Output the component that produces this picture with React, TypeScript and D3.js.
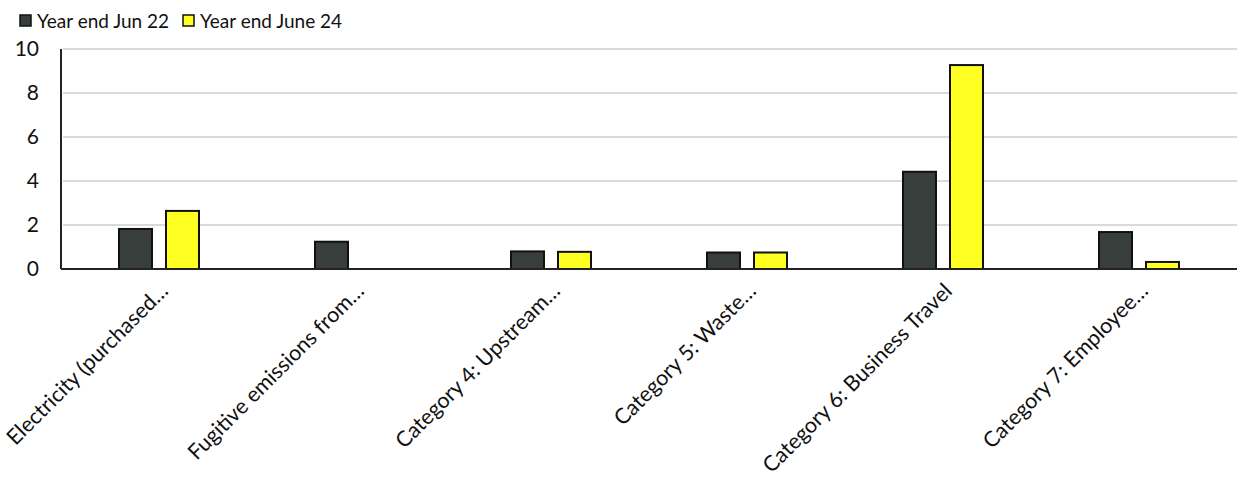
import React from "react";
import * as d3 from "d3";

const categories = [
  "Electricity (purchased…",
  "Fugitive emissions from…",
  "Category 4: Upstream…",
  "Category 5: Waste…",
  "Category 6: Business Travel",
  "Category 7: Employee…",
];
const seriesNames = ["Year end Jun 22", "Year end June 24"];
const valuesJun22 = [1.82, 1.24, 0.8, 0.75, 4.42, 1.68];
const valuesJun24 = [2.64, 0, 0.78, 0.75, 9.27, 0.32];
const yTicks = [0, 2, 4, 6, 8, 10];

const colors = ["#383e3b", "#ffff22"];
const FONT = "Lato, 'Open Sans', sans-serif";

const W = 1237;
const H = 486;
const margin = { left: 61, right: 0, top: 49, bottom: 217 };

export default function App() {
  const x = d3
    .scaleBand<string>()
    .domain(categories)
    .range([margin.left, W - margin.right]);
  const y = d3
    .scaleLinear()
    .domain([0, 10])
    .range([H - margin.bottom, margin.top]);
  const barW = 33;
  const gap = 14;
  const series = [valuesJun22, valuesJun24];

  return (
    <svg
      width={W}
      height={H}
      style={{ position: "absolute", left: 0, top: 0, background: "#fff" }}
      fontFamily={FONT}
    >
      {/* legend */}
      {seriesNames.map((name, i) => {
        const lx = i === 0 ? 20 : 183;
        return (
          <g key={name}>
            <rect x={lx} y={15} width={11} height={11} fill={colors[i]} stroke="#111" strokeWidth={1.5} />
            <text x={lx + 17} y={28} fontSize={19} fill="#111">
              {name}
            </text>
          </g>
        );
      })}

      {/* gridlines */}
      {yTicks.filter((t) => t > 0).map((t) => (
        <line key={t} x1={margin.left + 2} x2={W} y1={y(t)} y2={y(t)} stroke="#dadada" strokeWidth={2.2} />
      ))}

      {/* y tick labels */}
      {yTicks.map((t) => (
        <text key={t} x={39} y={y(t)} dy="0.35em" textAnchor="end" fontSize={21} fill="#111">
          {t}
        </text>
      ))}

      {/* bars */}
      {categories.map((c, ci) => {
        const cx = (x(c) as number) + x.bandwidth() / 2;
        return series.map((vals, si) => {
          const v = vals[ci];
          if (v <= 0) return null;
          const bx = si === 0 ? cx - gap / 2 - barW : cx + gap / 2;
          return (
            <rect
              key={`${c}-${si}`}
              x={bx}
              y={y(v)}
              width={barW}
              height={y(0) - y(v)}
              fill={colors[si]}
              stroke="#111"
              strokeWidth={2}
            />
          );
        });
      })}

      {/* axes */}
      <line x1={margin.left} x2={margin.left} y1={y(10)} y2={y(0)} stroke="#222" strokeWidth={2} />
      <line x1={margin.left} x2={W} y1={y(0)} y2={y(0)} stroke="#222" strokeWidth={2} />

      {/* category labels */}
      {categories.map((c) => {
        const cx = (x(c) as number) + x.bandwidth() / 2;
        return (
          <text
            key={c}
            transform={`translate(${cx + 5},${y(0) + 18}) rotate(-45)`}
            textAnchor="end"
            dy="0.35em"
            fontSize={21.5}
            fill="#111"
          >
            {c}
          </text>
        );
      })}
    </svg>
  );
}
